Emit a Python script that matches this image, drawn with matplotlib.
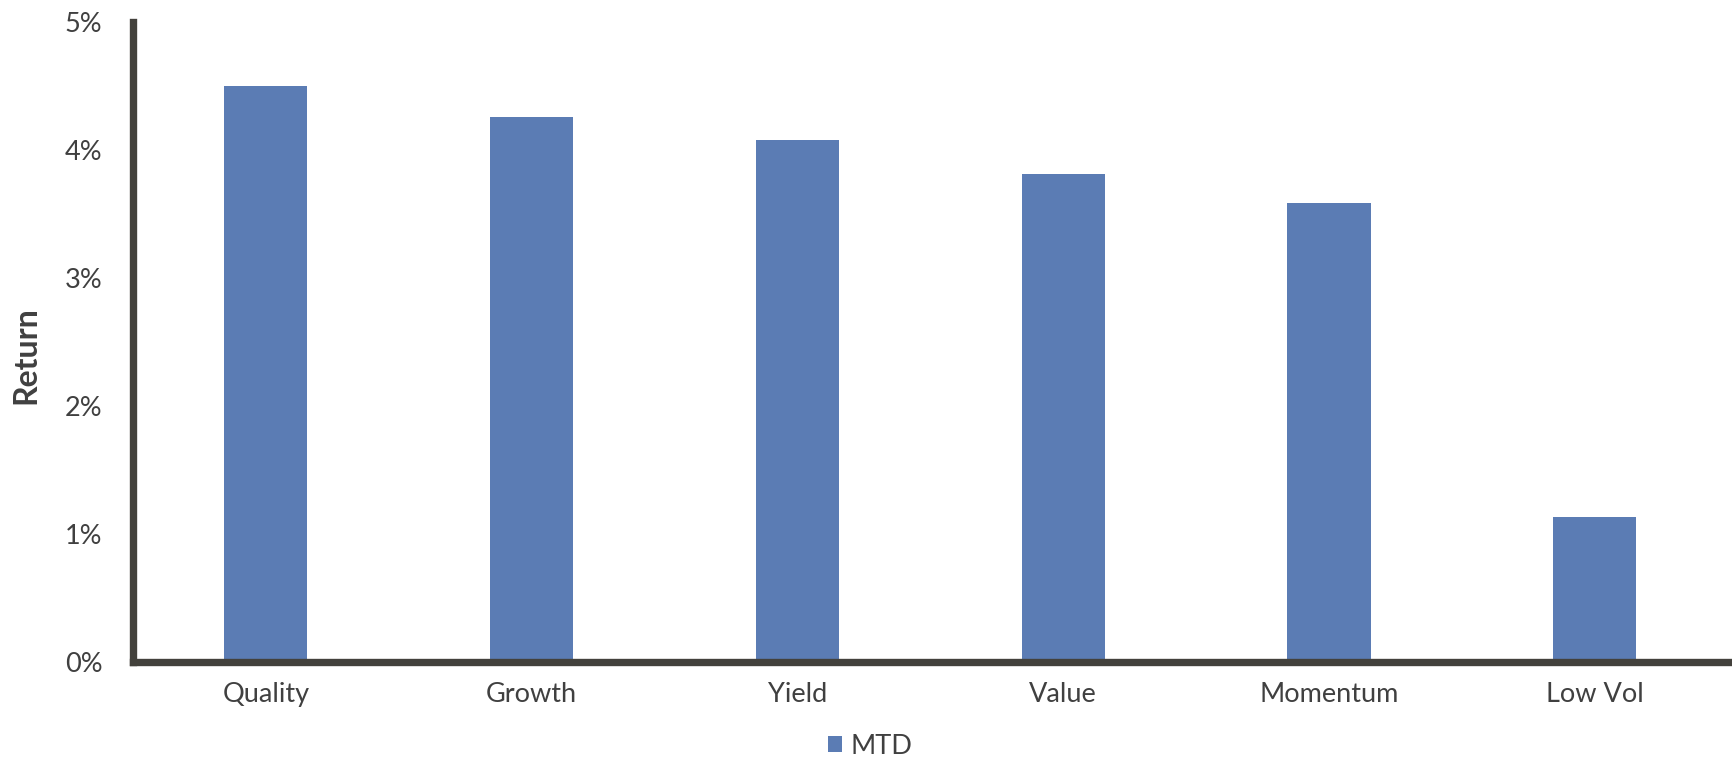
import matplotlib
matplotlib.use("Agg")
import matplotlib.pyplot as plt
from matplotlib.ticker import FuncFormatter

factors = ["Quality", "Growth", "Yield", "Value", "Momentum", "Low Vol"]
mtd_return = [4.50, 4.26, 4.08, 3.81, 3.59, 1.135]
y_ticks = [0, 1, 2, 3, 4, 5]

bar_color = "#5b7cb4"
axis_color = "#43413c"
text_color = "#404040"

plt.rcParams["font.family"] = ["Lato", "DejaVu Sans"]

fig = plt.figure(figsize=(17.33, 7.59), dpi=100)
ax = fig.add_axes([0.0767, 0.1277, 0.9203, 0.8433])

x = range(len(factors))
ax.bar(x, mtd_return, width=0.313, color=bar_color, label="MTD", zorder=2)

ax.set_xlim(-0.5, len(factors) - 0.5)
ax.set_ylim(0, 5)
ax.set_yticks(y_ticks)
ax.yaxis.set_major_formatter(FuncFormatter(lambda v, p: f"{v:.0f}%"))
ax.set_xticks(list(x))
ax.set_xticklabels(factors)

for side in ("top", "right"):
    ax.spines[side].set_visible(False)
for side in ("left", "bottom"):
    ax.spines[side].set_color(axis_color)
    ax.spines[side].set_linewidth(5.3)
    ax.spines[side].set_zorder(3)

ax.tick_params(axis="both", length=0, labelsize=19.5, labelcolor=text_color)
ax.tick_params(axis="y", pad=22)
ax.tick_params(axis="x", pad=14)

ax.set_ylabel("Return", fontsize=23, fontweight="bold", color=text_color)
ax.yaxis.set_label_coords(-0.058, 0.48)

handles, labels = ax.get_legend_handles_labels()
leg = fig.legend(handles, labels, loc="center", bbox_to_anchor=(0.502, 0.017),
                 frameon=False, fontsize=19.5, handlelength=0.55, handleheight=0.55,
                 handletextpad=0.3, borderpad=0)
for t in leg.get_texts():
    t.set_color(text_color)

fig.savefig("out.png", dpi=100)
